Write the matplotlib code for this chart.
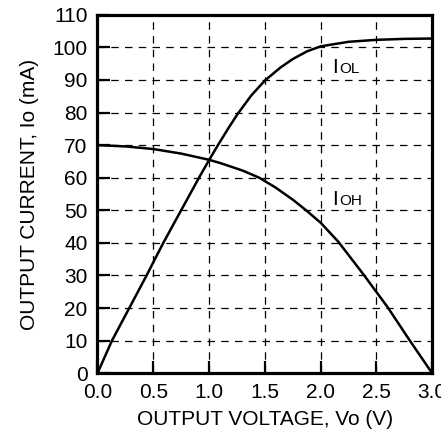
import numpy as np
import matplotlib
matplotlib.use("Agg")
import matplotlib.pyplot as plt
from matplotlib.offsetbox import TextArea, HPacker, AnnotationBbox

plt.rcParams['font.family'] = ['Liberation Sans', 'DejaVu Sans']

# values
v_ol = [0.0, 0.13, 0.285, 0.44, 0.59, 0.75, 0.91, 1.0, 1.08, 1.17, 1.255, 1.38, 1.5,
        1.64, 1.75, 1.88, 2.0, 2.25, 2.5, 2.75, 3.0]
i_ol = [0, 10, 20, 30, 40, 50, 60, 65.4, 70, 75, 79.5, 85.3, 89.8,
        93.8, 96.4, 98.8, 100.3, 101.7, 102.3, 102.6, 102.7]

v_oh = [0.0, 0.25, 0.5, 0.75, 1.0, 1.1, 1.3, 1.45, 1.6, 1.757, 1.87, 2.0,
        2.16, 2.38, 2.6, 2.8, 3.0]
i_oh = [70, 69.6, 68.8, 67.4, 65.5, 64.5, 62.2, 60, 56.9, 53.1, 50, 46.2,
        40.3, 30.5, 20.3, 10, 0]

xticks = [0.0, 0.5, 1.0, 1.5, 2.0, 2.5, 3.0]
yticks = list(range(0, 111, 10))

fig = plt.figure(figsize=(4.41, 4.34), dpi=100)
ax = fig.add_axes([0.221, 0.14, 0.759, 0.826])

ax.plot(v_ol, i_ol, color='k', lw=1.8, solid_capstyle='butt')
ax.plot(v_oh, i_oh, color='k', lw=1.8, solid_capstyle='butt')

ax.set_xlim(0, 3.0)
ax.set_ylim(0, 110)
ax.set_xticks(xticks)
ax.set_xticklabels(['%.1f' % v for v in xticks])
ax.set_yticks(yticks)
ax.grid(True, color='k', lw=0.9, linestyle=(0, (6, 5)))
ax.tick_params(direction='in', length=9, width=1.6, labelsize=15, pad=7,
               colors='k')
for s in ax.spines.values():
    s.set_linewidth(2.3)

ax.set_xlabel('OUTPUT VOLTAGE, Vo (V)', fontsize=15, labelpad=6)
ax.set_ylabel('OUTPUT CURRENT, Io (mA)', fontsize=15, labelpad=10)

# curve labels: big I + smaller letters
def curve_label(x, y, tail):
    box = HPacker(children=[TextArea('I', textprops=dict(size=15)),
                            TextArea(tail, textprops=dict(size=11))],
                  align='baseline', pad=0, sep=1)
    ab = AnnotationBbox(box, (x, y), xycoords='data', frameon=False,
                        box_alignment=(0, 0.2))
    ax.add_artist(ab)

curve_label(2.1, 92.0, 'OL')
curve_label(2.1, 51.5, 'OH')

fig.savefig('out.png', dpi=100)
